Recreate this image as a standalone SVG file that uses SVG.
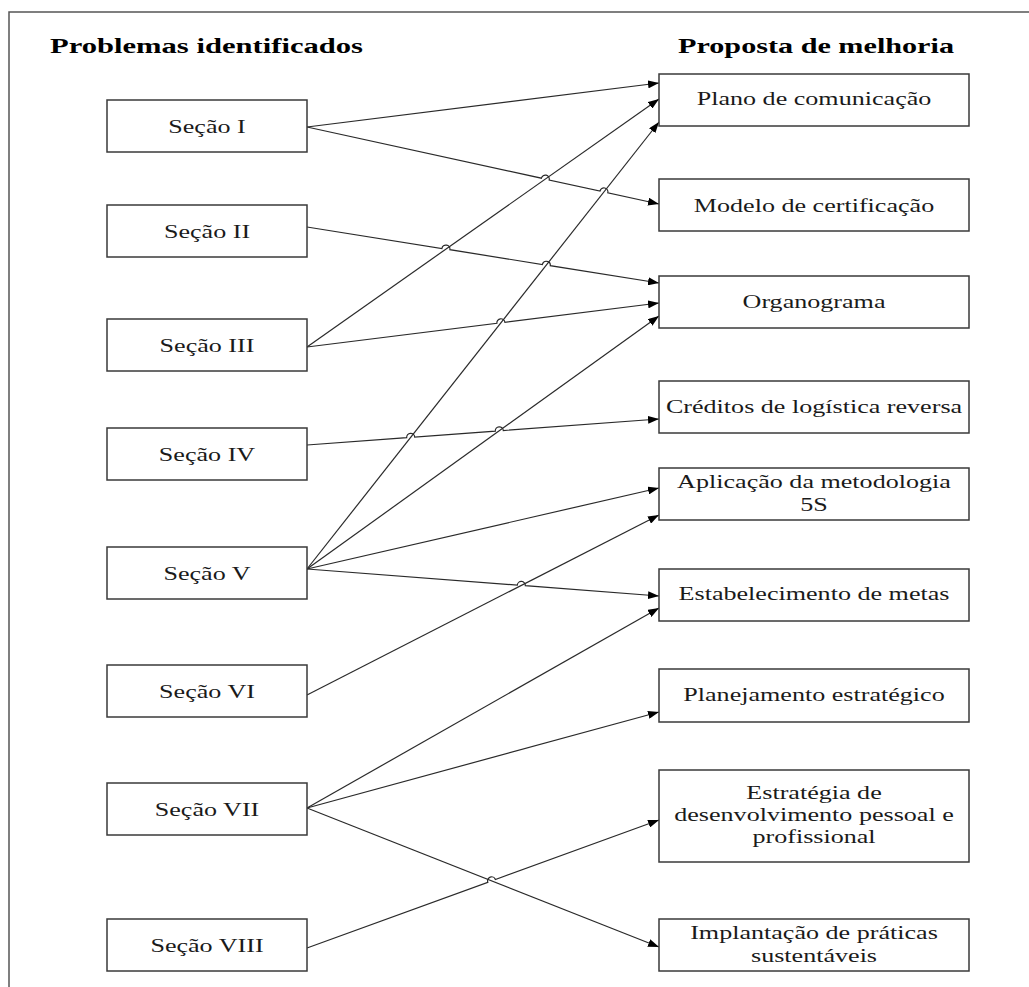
<svg xmlns="http://www.w3.org/2000/svg" width="1029" height="987" viewBox="0 0 1029 987">
<style>
.frame{fill:none;stroke:#555;stroke-width:1.5}
.box{fill:#fff;stroke:#3a3a3a;stroke-width:1.5}
.t{font-family:"Liberation Serif","Times New Roman",serif;font-size:18.5px;fill:#1a1a1a;text-anchor:middle}
.title{font-family:"Liberation Serif","Times New Roman",serif;font-size:21px;font-weight:bold;fill:#000}
.c{fill:none;stroke:#2a2a2a;stroke-width:1.2}
</style>
<defs>
<marker id="ah" markerUnits="userSpaceOnUse" markerWidth="11" markerHeight="8" refX="11" refY="4" orient="auto">
<path d="M0,0 L11,4 L0,8 z" fill="#000"/>
</marker>
</defs>
<rect class="frame" x="9" y="12" width="1040" height="1000"/>
<g id="titles">
<text class="title" x="50" y="53" textLength="313" lengthAdjust="spacingAndGlyphs">Problemas identificados</text>
<text class="title" x="678" y="53" textLength="276" lengthAdjust="spacingAndGlyphs">Proposta de melhoria</text>
</g>
<g id="connectors">
<path class="c" marker-end="url(#ah)" d="M307,127 L659,83"/>
<path class="c" marker-end="url(#ah)" d="M307,127 L541.4,178.2 A4,4 0 0 1 549.2,180 L600,191 A4,4 0 0 1 607.8,192.8 L659,204"/>
<path class="c" marker-end="url(#ah)" d="M307,227 L441.9,248.5 A4,4 0 0 1 449.9,249.7 L542.4,264.5 A4,4 0 0 1 550.3,265.7 L659,283"/>
<path class="c" marker-end="url(#ah)" d="M307,347 L659,99"/>
<path class="c" marker-end="url(#ah)" d="M307,347 L496.9,323.3 A4,4 0 0 1 504.9,322.3 L659,303"/>
<path class="c" marker-end="url(#ah)" d="M307,445 L406.7,437.6 A4,4 0 0 1 414.7,437 L495.3,431.1 A4,4 0 0 1 503.3,430.5 L659,419"/>
<path class="c" marker-end="url(#ah)" d="M307,569 L659,122"/>
<path class="c" marker-end="url(#ah)" d="M307,569 L659,316"/>
<path class="c" marker-end="url(#ah)" d="M307,569 L659,488"/>
<path class="c" marker-end="url(#ah)" d="M307,569 L517.3,585.1 A4,4 0 0 1 525.3,585.7 L659,596"/>
<path class="c" marker-end="url(#ah)" d="M307,695 L659,515"/>
<path class="c" marker-end="url(#ah)" d="M307,808 L659,608"/>
<path class="c" marker-end="url(#ah)" d="M307,808 L659,712"/>
<path class="c" marker-end="url(#ah)" d="M307,808 L659,947"/>
<path class="c" marker-end="url(#ah)" d="M307,948 L487.8,882.3 A4,4 0 0 1 495.4,879.5 L659,820"/>
</g>
<g id="s1"><rect class="box" x="107" y="100" width="200" height="52"/><text class="t" transform="translate(207,133) scale(1.41,1)">Seção I</text></g>
<g id="s2"><rect class="box" x="107" y="205" width="200" height="52"/><text class="t" transform="translate(207,238) scale(1.41,1)">Seção II</text></g>
<g id="s3"><rect class="box" x="107" y="319" width="200" height="52"/><text class="t" transform="translate(207,352) scale(1.41,1)">Seção III</text></g>
<g id="s4"><rect class="box" x="107" y="428" width="200" height="52"/><text class="t" transform="translate(207,461) scale(1.41,1)">Seção IV</text></g>
<g id="s5"><rect class="box" x="107" y="547" width="200" height="52"/><text class="t" transform="translate(207,580) scale(1.41,1)">Seção V</text></g>
<g id="s6"><rect class="box" x="107" y="665" width="200" height="52"/><text class="t" transform="translate(207,698) scale(1.41,1)">Seção VI</text></g>
<g id="s7"><rect class="box" x="107" y="783" width="200" height="52"/><text class="t" transform="translate(207,816) scale(1.41,1)">Seção VII</text></g>
<g id="s8"><rect class="box" x="107" y="919" width="200" height="52"/><text class="t" transform="translate(207,952) scale(1.41,1)">Seção VIII</text></g>
<g id="p1"><rect class="box" x="659" y="74" width="310" height="52"/><text class="t" transform="translate(814,105) scale(1.41,1)">Plano de comunicação</text></g>
<g id="p2"><rect class="box" x="659" y="179" width="310" height="52"/><text class="t" transform="translate(814,212) scale(1.41,1)">Modelo de certificação</text></g>
<g id="p3"><rect class="box" x="659" y="276" width="310" height="52"/><text class="t" transform="translate(814,308) scale(1.41,1)">Organograma</text></g>
<g id="p4"><rect class="box" x="659" y="381" width="310" height="52"/><text class="t" transform="translate(814,413) scale(1.41,1)">Créditos de logística reversa</text></g>
<g id="p5"><rect class="box" x="659" y="468" width="310" height="52"/><text class="t" transform="translate(814,488) scale(1.41,1)">Aplicação da metodologia</text><text class="t" transform="translate(814,511) scale(1.41,1)">5S</text></g>
<g id="p6"><rect class="box" x="659" y="569" width="310" height="52"/><text class="t" transform="translate(814,600) scale(1.41,1)">Estabelecimento de metas</text></g>
<g id="p7"><rect class="box" x="659" y="669" width="310" height="53"/><text class="t" transform="translate(814,701) scale(1.41,1)">Planejamento estratégico</text></g>
<g id="p8"><rect class="box" x="659" y="770" width="310" height="92"/><text class="t" transform="translate(814,799) scale(1.41,1)">Estratégia de</text><text class="t" transform="translate(814,821) scale(1.41,1)">desenvolvimento pessoal e</text><text class="t" transform="translate(814,843) scale(1.41,1)">profissional</text></g>
<g id="p9"><rect class="box" x="659" y="919" width="310" height="52"/><text class="t" transform="translate(814,939) scale(1.41,1)">Implantação de práticas</text><text class="t" transform="translate(814,962) scale(1.41,1)">sustentáveis</text></g>
</svg>
